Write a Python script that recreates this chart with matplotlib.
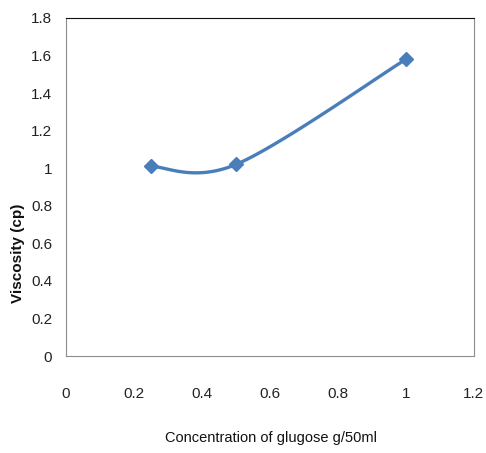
import numpy as np
import matplotlib.pyplot as plt

# Glucose concentration (g/50ml) and measured viscosity (cp)
concentration = [0.25, 0.5, 1.0]
viscosity = [1.01, 1.02, 1.58]

x_ticks = [0, 0.2, 0.4, 0.6, 0.8, 1, 1.2]
y_ticks = [0, 0.2, 0.4, 0.6, 0.8, 1, 1.2, 1.4, 1.6, 1.8]


def smooth_curve(xs, ys, n=60):
    # spreadsheet-style smoothed line: cubic Bezier through each pair of points
    pts = np.column_stack([xs, ys]).astype(float)
    out = []
    for i in range(len(pts) - 1):
        p0 = pts[i - 1] if i > 0 else pts[i]
        p1, p2 = pts[i], pts[i + 1]
        p3 = pts[i + 2] if i + 2 < len(pts) else pts[i + 1]
        c1 = p1 + (p2 - p0) / 6.0
        c2 = p2 - (p3 - p1) / 6.0
        t = np.linspace(0, 1, n)[:, None]
        seg = ((1 - t) ** 3) * p1 + 3 * ((1 - t) ** 2) * t * c1 \
            + 3 * (1 - t) * t ** 2 * c2 + t ** 3 * p2
        out.append(seg)
    seg = np.vstack(out)
    return seg[:, 0], seg[:, 1]


plt.rcParams['font.family'] = ['Liberation Sans', 'DejaVu Sans']

fig = plt.figure(figsize=(4.86, 4.53), dpi=100)
ax = fig.add_axes([0.1358, 0.2141, 0.8392, 0.7462])

sx, sy = smooth_curve(concentration, viscosity)
ax.plot(sx, sy, color='#4A7EBB', linewidth=2.4, solid_capstyle='round')
ax.plot(concentration, viscosity, linestyle='none', marker='D',
        color='#4A7EBB', markersize=7.5)

ax.set_xlim(0, 1.2)
ax.set_ylim(0, 1.8)
ax.set_xticks(x_ticks)
ax.set_xticklabels([f'{v:g}' for v in x_ticks])
ax.set_yticks(y_ticks)
ax.set_yticklabels([f'{v:g}' for v in y_ticks])
ax.tick_params(axis='both', length=0, labelsize=11, colors='#222222')
ax.tick_params(axis='x', pad=22)
ax.tick_params(axis='y', pad=10)

for side in ['left', 'right', 'bottom']:
    ax.spines[side].set_color('#8c8c8c')
ax.spines['top'].set_color('#111111')

fig.text(0.557, 0.033, 'Concentration of glugose g/50ml', fontsize=10.5,
         ha='center', va='center', color='#111111')
fig.text(0.037, 0.4415, 'Viscosity (cp)', fontsize=11, fontweight='bold',
         rotation=90, ha='center', va='center', color='#111111')

plt.savefig('out.png', dpi=100)
